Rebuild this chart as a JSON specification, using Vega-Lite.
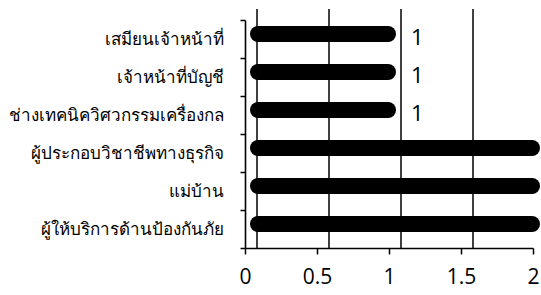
{
  "$schema": "https://vega.github.io/schema/vega-lite/v6.json",
  "autosize": {"type": "none"},
  "width": 288,
  "height": 228,
  "padding": {"left": 245, "top": 20, "right": 8, "bottom": 47},
  "background": "white",
  "config": {"view": {"stroke": null}},
  "datasets": {
    "bars": [
      {"job": "เสมียนเจ้าหน้าที่", "v": 1},
      {"job": "เจ้าหน้าที่บัญชี", "v": 1},
      {"job": "ช่างเทคนิควิศวกรรมเครื่องกล", "v": 1},
      {"job": "ผู้ประกอบวิชาชีพทางธุรกิจ", "v": 2},
      {"job": "แม่บ้าน", "v": 2},
      {"job": "ผู้ให้บริการด้านป้องกันภัย", "v": 2}
    ],
    "grid": [{"g": 0}, {"g": 0.5}, {"g": 1}, {"g": 1.5}]
  },
  "layer": [
    {
      "data": {"name": "grid"},
      "mark": {"type": "rule", "color": "#111", "strokeWidth": 1.6, "xOffset": 12, "yOffset": -11, "y2Offset": -11},
      "encoding": {
        "x": {"field": "g", "type": "quantitative", "scale": {"domain": [0, 2]},
          "axis": {"title": null, "values": [0, 0.5, 1, 1.5, 2], "format": "~g", "grid": false, "domainColor": "#000", "domainWidth": 1.6, "tickColor": "#000", "tickSize": 6, "tickWidth": 1.5, "labelColor": "#000", "labelFontSize": 21, "labelFont": "Open Sans", "labelPadding": 12, "labelFlush": false}}
      }
    },
    {
      "data": {"name": "bars"},
      "mark": {"type": "rule", "color": "#000", "strokeWidth": 16, "strokeCap": "round", "xOffset": -1, "x2Offset": 13, "yOffset": -5, "y2Offset": -5},
      "encoding": {
        "y": {"field": "job", "type": "nominal", "sort": null,
          "axis": {"title": null, "domainColor": "#000", "domainWidth": 1.6, "tickColor": "#000", "tickSize": 5, "tickWidth": 1.5, "tickBand": "extent", "labelColor": "#000", "labelFontSize": 17, "labelFont": "sans-serif", "labelPadding": 17, "labelLimit": 300}},
        "x": {"field": "v", "type": "quantitative"},
        "x2": {"datum": 0}
      }
    },
    {
      "data": {"name": "bars"},
      "transform": [{"filter": "datum.v < 2"}],
      "mark": {"type": "text", "align": "left", "baseline": "middle", "dx": 22, "dy": -1, "fontSize": 22, "font": "Open Sans", "color": "#000"},
      "encoding": {
        "y": {"field": "job", "type": "nominal", "sort": null},
        "x": {"field": "v", "type": "quantitative"},
        "text": {"field": "v", "type": "quantitative"}
      }
    }
  ]
}
